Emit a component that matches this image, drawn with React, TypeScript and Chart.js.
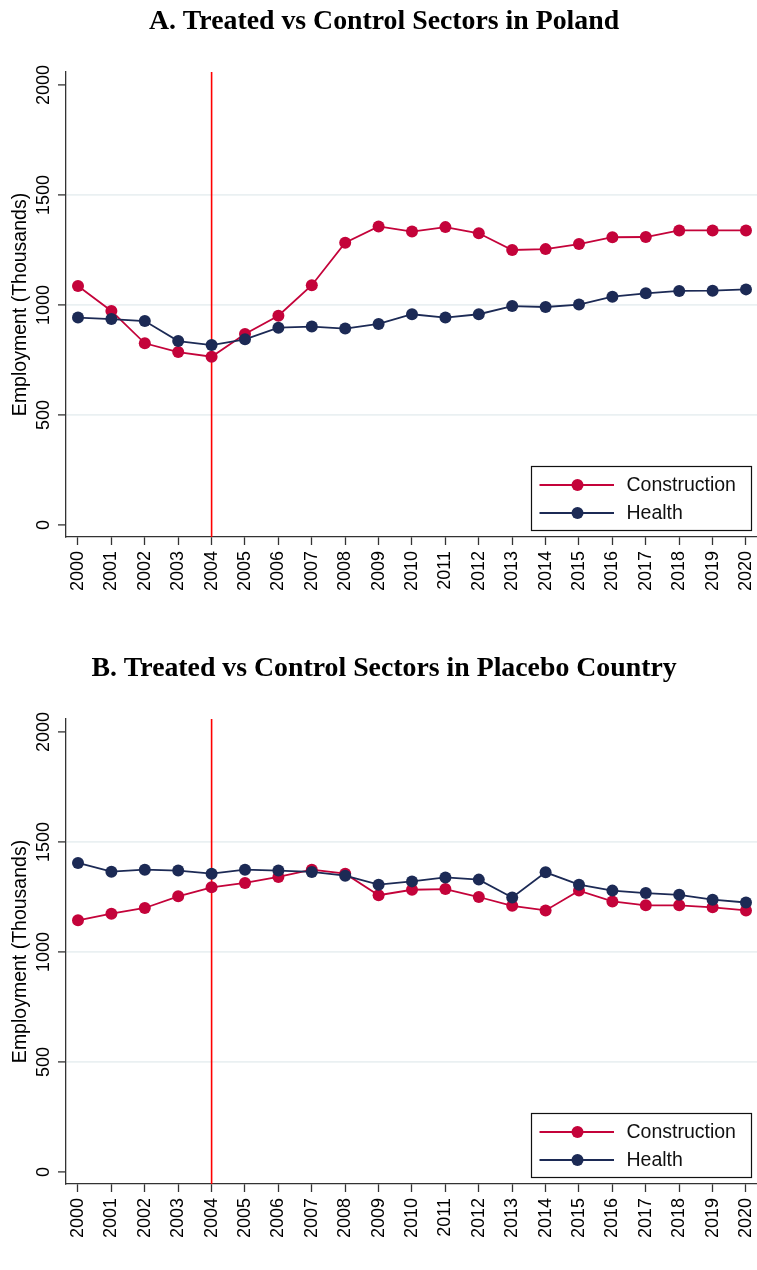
import React, { useEffect, useRef } from 'react';
import { Chart, registerables } from 'chart.js';

Chart.register(...registerables);

const years = [2000, 2001, 2002, 2003, 2004, 2005, 2006, 2007, 2008, 2009, 2010, 2011, 2012, 2013, 2014, 2015, 2016, 2017, 2018, 2019, 2020];

const polandConstruction = [1086, 973, 826, 786, 765, 868, 951, 1090, 1283, 1357, 1334, 1354, 1326, 1250, 1254, 1277, 1308, 1309, 1339, 1339, 1339];
const polandHealth = [943, 936, 927, 836, 818, 844, 897, 902, 893, 914, 958, 943, 958, 995, 991, 1002, 1038, 1053, 1064, 1065, 1071];

const placeboConstruction = [1144, 1174, 1200, 1253, 1294, 1314, 1341, 1374, 1356, 1258, 1283, 1286, 1250, 1210, 1189, 1279, 1230, 1212, 1212, 1203, 1189];
const placeboHealth = [1405, 1365, 1374, 1370, 1356, 1374, 1370, 1364, 1347, 1306, 1321, 1339, 1329, 1248, 1362, 1306, 1279, 1268, 1260, 1238, 1225];

const yTicks = [0, 500, 1000, 1500, 2000];
const gridValues = [500, 1000, 1500];
const treatmentYear = 2004;

const seriesLabels = ['Construction', 'Health'];
const yTitle = 'Employment (Thousands)';
const titleA = 'A. Treated vs Control Sectors in Poland';
const titleB = 'B. Treated vs Control Sectors in Placebo Country';

const RED = '#C4033A';
const NAVY = '#1C2A55';
const VLINE = '#FF0000';
const AXIS = '#333333';
const GRID = '#EAF0F2';
const SANS = "'Liberation Sans', Arial, Helvetica, sans-serif";
const SERIF = "'Liberation Serif', 'Times New Roman', serif";

const W = 757;
const H = 623;
const PLOT_TOP = 72;
const PLOT_BOTTOM = 537;
const PLOT_LEFT = 66;
const LEFT_PAD = 11;
const TITLE_SIZE = 27.8;
const TITLE_PAD_TOP = 5;

const yTickLabelPlugin = {
  id: 'yTickLabels',
  afterDraw(chart: any) {
    const y = chart.scales.y;
    const ctx = chart.ctx;
    ctx.save();
    ctx.font = `18px ${SANS}`;
    ctx.fillStyle = '#000';
    ctx.textAlign = 'center';
    ctx.textBaseline = 'middle';
    for (const v of yTicks) {
      ctx.save();
      ctx.translate(44, y.getPixelForValue(v));
      ctx.rotate(-Math.PI / 2);
      ctx.fillText(String(v), 0, 0);
      ctx.restore();
    }
    ctx.restore();
  },
};

const vLinePlugin = {
  id: 'vLine',
  beforeDatasetsDraw(chart: any) {
    const x = chart.scales.x.getPixelForValue(treatmentYear);
    const ca = chart.chartArea;
    const ctx = chart.ctx;
    ctx.save();
    ctx.strokeStyle = VLINE;
    ctx.lineWidth = 1.6;
    ctx.beginPath();
    ctx.moveTo(x, ca.top);
    ctx.lineTo(x, ca.bottom);
    ctx.stroke();
    ctx.restore();
  },
};

const legendPlugin = {
  id: 'insideLegend',
  afterDraw(chart: any) {
    const ca = chart.chartArea;
    const ctx = chart.ctx;
    const bw = 221;
    const bh = 65;
    const right = ca.right - 5;
    const bottom = ca.bottom - 6;
    const left = right - bw;
    const top = bottom - bh;
    ctx.save();
    ctx.fillStyle = '#fff';
    ctx.fillRect(left, top, bw, bh);
    ctx.strokeStyle = '#111';
    ctx.lineWidth = 1.2;
    ctx.strokeRect(left + 0.5, top + 0.5, bw - 1, bh - 1);
    const colors = [RED, NAVY];
    const rows = [top + 19, top + 47];
    seriesLabels.forEach((label, i) => {
      const ry = rows[i];
      ctx.strokeStyle = colors[i];
      ctx.lineWidth = 1.8;
      ctx.beginPath();
      ctx.moveTo(left + 8.5, ry);
      ctx.lineTo(left + 83, ry);
      ctx.stroke();
      ctx.fillStyle = colors[i];
      ctx.beginPath();
      ctx.arc(left + 46.5, ry, 6, 0, Math.PI * 2);
      ctx.fill();
      ctx.fillStyle = '#111';
      ctx.font = `19.5px ${SANS}`;
      ctx.textAlign = 'left';
      ctx.textBaseline = 'middle';
      ctx.fillText(label, left + 95.5, ry + 1);
    });
    ctx.restore();
  },
};

function makeConfig(title: string, construction: number[], health: number[]): any {
  const pts = (vals: number[]) => years.map((yr, i) => ({ x: yr, y: vals[i] }));
  return {
    type: 'line',
    data: {
      datasets: [
        {
          label: seriesLabels[0],
          data: pts(construction),
          borderColor: RED,
          backgroundColor: RED,
          pointBackgroundColor: RED,
          pointBorderWidth: 0,
          pointRadius: 6,
          borderWidth: 1.8,
          tension: 0,
          order: 1,
          clip: false,
        },
        {
          label: seriesLabels[1],
          data: pts(health),
          borderColor: NAVY,
          backgroundColor: NAVY,
          pointBackgroundColor: NAVY,
          pointBorderWidth: 0,
          pointRadius: 6,
          borderWidth: 1.8,
          tension: 0,
          order: 0,
          clip: false,
        },
      ],
    },
    options: {
      responsive: false,
      animation: false,
      layout: { padding: { left: LEFT_PAD, right: 0, top: 0, bottom: 0 }, autoPadding: false },
      plugins: {
        legend: { display: false },
        tooltip: { enabled: false },
        title: {
          display: true,
          text: title,
          color: '#000',
          font: { family: SERIF, size: TITLE_SIZE, weight: 'bold', lineHeight: 1.2 },
          padding: { top: TITLE_PAD_TOP, bottom: PLOT_TOP - TITLE_PAD_TOP - TITLE_SIZE * 1.2 },
        },
      },
      scales: {
        x: {
          type: 'linear',
          min: 2000 - 12 / 33.4,
          max: 2020 + 11 / 33.4,
          afterBuildTicks: (s: any) => {
            s.ticks = years.map((v) => ({ value: v }));
          },
          afterFit: (s: any) => {
            s.height = H - PLOT_BOTTOM;
            s.paddingLeft = 0;
            s.paddingRight = 0;
          },
          ticks: {
            autoSkip: false,
            minRotation: 90,
            maxRotation: 90,
            padding: 6,
            color: '#000',
            font: { family: SANS, size: 18 },
            callback: (v: any) => String(v),
          },
          grid: {
            drawOnChartArea: false,
            drawTicks: true,
            tickLength: 8,
            tickColor: AXIS,
            tickWidth: 1.3,
          },
          border: { display: true, color: AXIS, width: 1.3 },
        },
        y: {
          type: 'linear',
          min: -12 / 0.22,
          max: 2000 + 13 / 0.22,
          afterBuildTicks: (s: any) => {
            s.ticks = yTicks.map((v) => ({ value: v }));
          },
          afterFit: (s: any) => {
            s.width = PLOT_LEFT - LEFT_PAD;
            s.paddingTop = 0;
            s.paddingBottom = 0;
          },
          ticks: { display: false },
          grid: {
            drawTicks: true,
            tickLength: 8,
            tickColor: AXIS,
            tickWidth: 1.3,
            lineWidth: 1.8,
            color: (c: any) => (c.tick && gridValues.includes(c.tick.value) ? GRID : 'rgba(0,0,0,0)'),
          },
          border: { display: true, color: AXIS, width: 1.3 },
          title: {
            display: true,
            text: yTitle,
            color: '#000',
            font: { family: SANS, size: 19.5, lineHeight: 1 },
            padding: { top: 0, bottom: 0 },
          },
        },
      },
    },
    plugins: [vLinePlugin, yTickLabelPlugin, legendPlugin],
  };
}

function Panel({ title, construction, health, top }: { title: string; construction: number[]; health: number[]; top: number }) {
  const ref = useRef<HTMLCanvasElement | null>(null);
  useEffect(() => {
    if (!ref.current) return;
    const chart = new Chart(ref.current, makeConfig(title, construction, health));
    return () => chart.destroy();
  }, [title, construction, health]);
  return (
    <div style={{ position: 'absolute', left: 0, top, width: W, height: H }}>
      <canvas ref={ref} width={W} height={H} style={{ display: 'block', width: W, height: H }} />
    </div>
  );
}

export default function App() {
  return (
    <div style={{ position: 'absolute', left: 0, top: 0, width: W, height: 1270, background: '#fff', overflow: 'hidden' }}>
      <Panel title={titleA} construction={polandConstruction} health={polandHealth} top={0} />
      <Panel title={titleB} construction={placeboConstruction} health={placeboHealth} top={647} />
    </div>
  );
}
